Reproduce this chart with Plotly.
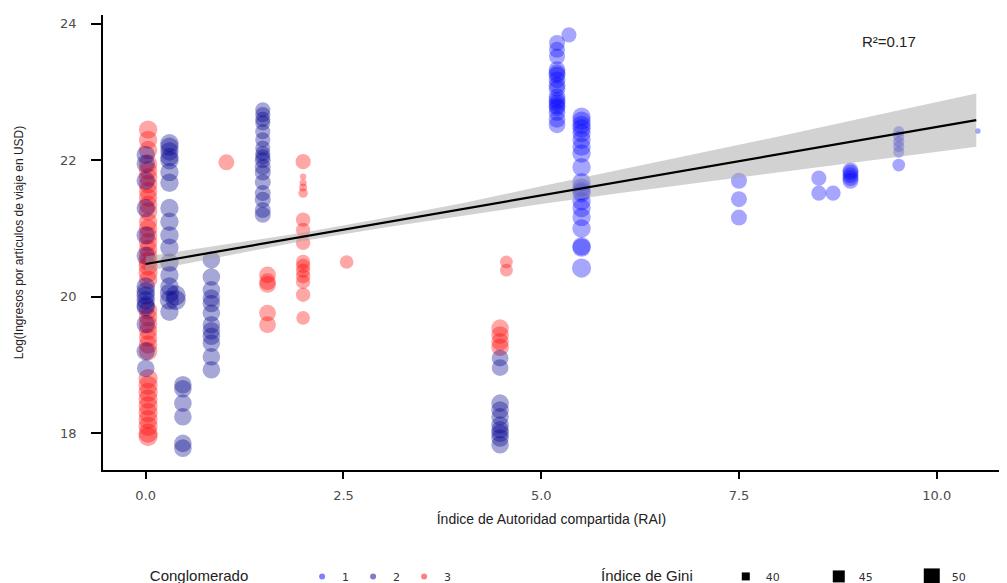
import plotly.graph_objects as go

# ---------------- data ----------------
# Conglomerado 1 (blue)
c1_x = [5.2, 5.2, 5.2, 5.2, 5.2, 5.2, 5.2, 5.2, 5.2, 5.2, 5.2, 5.2, 5.2, 5.2, 5.2, 5.2, 5.2,
        5.35,
        5.51, 5.51, 5.51, 5.51, 5.51, 5.51, 5.51, 5.51, 5.51, 5.51, 5.51, 5.51, 5.51, 5.51,
        5.51, 5.51, 5.51, 5.51, 5.51, 5.51,
        7.5, 7.5, 7.5,
        8.51, 8.51, 8.69,
        8.91, 8.91, 8.91, 8.91, 8.91,
        9.52, 9.52, 9.52, 9.52, 9.52, 9.52,
        10.52]
c1_y = [23.72, 23.62, 23.52, 23.33, 23.28, 23.25, 23.18, 23.1, 23.05, 22.93, 22.88, 22.84,
        22.8, 22.77, 22.7, 22.6, 22.52,
        23.84,
        22.64, 22.58, 22.52, 22.47, 22.4, 22.3, 22.2, 22.1, 21.9, 21.68, 21.6, 21.55, 21.52,
        21.4, 21.3, 21.17, 21.0, 20.74, 20.72, 20.42,
        21.7, 21.43, 21.16,
        21.74, 21.52, 21.52,
        21.85, 21.82, 21.78, 21.74, 21.7,
        22.42, 22.35, 22.27, 22.2, 22.12, 21.93,
        22.43]
c1_gini = [45, 45, 45, 46, 46, 46, 46, 46, 46, 46, 46, 46, 46, 46, 46, 46, 46,
           44,
           48, 48, 48, 48, 48, 48, 48, 48, 48, 48, 48, 48, 48,
           48, 48, 48, 48, 48, 48, 49,
           45, 45, 45,
           44, 44, 44,
           45, 45, 45, 45, 45,
           39, 39, 39, 39, 39, 41,
           32]

# Conglomerado 2 (navy)
c2_x = [0.0, 0.0, 0.0, 0.0, 0.0, 0.0, 0.0, 0.0, 0.0, 0.0, 0.0, 0.0, 0.0, 0.0, 0.0,
        0.3, 0.3, 0.3, 0.3, 0.3, 0.3, 0.3, 0.3, 0.3, 0.3, 0.3, 0.3, 0.3, 0.3, 0.3, 0.3, 0.3,
        0.38, 0.38,
        0.47, 0.47, 0.47, 0.47, 0.47, 0.47,
        0.83, 0.83, 0.83, 0.83, 0.83, 0.83, 0.83, 0.83, 0.83, 0.83, 0.83, 0.83,
        1.48, 1.48, 1.48, 1.48, 1.48, 1.48, 1.48, 1.48, 1.48, 1.48, 1.48, 1.48, 1.48, 1.48,
        1.48, 1.48, 1.48,
        4.48, 4.48, 4.48, 4.48, 4.48, 4.48, 4.48, 4.48, 4.48, 4.48]
c2_y = [22.08, 21.95, 21.7, 21.3, 20.9, 20.6, 20.15, 20.08, 20.02, 19.95, 19.88, 19.85,
        19.6, 19.2, 18.95,
        22.25, 22.2, 22.13, 22.05, 22.0, 21.83, 21.67, 21.3, 21.1, 20.9, 20.72, 20.5, 20.32,
        20.15, 20.05, 19.95, 19.78,
        20.02, 19.95,
        18.71, 18.65, 18.44, 18.24, 17.85, 17.78,
        20.54, 20.29, 20.1, 19.98, 19.9, 19.76, 19.59, 19.5, 19.42, 19.32, 19.12, 18.93,
        22.74, 22.67, 22.6, 22.55, 22.42, 22.3, 22.18, 22.1, 22.05, 22.0, 21.9, 21.82, 21.68,
        21.52, 21.42, 21.27, 21.2,
        19.1, 18.96, 18.44, 18.34, 18.24, 18.12, 18.05, 18.0, 17.93, 17.83]
c2_gini = [48, 48, 48, 48, 48, 48, 48, 48, 48, 48, 48, 48, 48, 48, 47,
           48, 48, 48, 48, 48, 48, 48, 48, 48, 48, 48, 48, 48, 48, 49, 49, 48,
           50, 50,
           47, 47, 47, 47, 47, 47,
           47, 47, 47, 47, 47, 47, 47, 47, 47, 47, 47, 47,
           44, 44, 44, 44, 44, 44, 44, 44, 44, 45, 45, 45, 45, 45, 45, 45, 45,
           46, 46, 47, 47, 47, 47, 47, 47, 47, 47]

# Conglomerado 3 (red)
c3_x = [0.03] * 38 + [1.02] + [1.54] * 5 + [1.99] * 15 + [2.54] + [4.48] * 4 + [4.56] * 2
c3_y = [22.45, 22.3, 22.15, 21.95, 21.85, 21.75, 21.65, 21.55, 21.45, 21.35, 21.25, 21.1,
        21.0, 20.9, 20.8, 20.7, 20.6, 20.52, 20.45, 20.35, 20.25, 19.8, 19.7, 19.6, 19.5,
        19.4, 19.3, 19.2, 18.8, 18.7, 18.6, 18.5, 18.4, 18.3, 18.2, 18.1, 18.0, 17.95,
        21.97,
        20.32, 20.22, 20.18, 19.76, 19.59,
        21.98, 21.76, 21.67, 21.6, 21.52, 21.13, 20.98, 20.79, 20.51, 20.45, 20.38, 20.3,
        20.22, 20.03, 19.69,
        20.51,
        19.54, 19.44, 19.34, 19.26,
        20.51, 20.39]
c3_gini = [48, 48, 48, 48, 48, 48, 48, 48, 48, 48, 48, 48, 48, 48, 48, 48, 48, 49, 49,
           49, 48, 48, 48, 48, 48, 48, 48, 48, 49, 49, 49, 49, 49, 49, 49, 49, 49, 49,
           45,
           46, 46, 46, 46, 46,
           44, 33, 34, 35, 37, 43, 43, 43, 43, 43, 43, 43, 43, 43, 42,
           42,
           47, 47, 47, 47,
           41, 41]

# regression fit and its confidence band
fit_x = [0.0, 10.5]
fit_y = [20.48, 22.59]
band_x = [0, 1, 2, 3, 4, 5, 6, 7, 8, 9, 10, 10.5]
band_lo = [20.37, 20.60, 20.82, 21.01, 21.19, 21.36, 21.52, 21.67, 21.83, 21.98, 22.13, 22.20]
band_hi = [20.59, 20.76, 20.94, 21.15, 21.37, 21.62, 21.86, 22.11, 22.35, 22.60, 22.85, 22.98]

r2_label = "R²=0.17"
gini_levels = [40, 45, 50]
cluster_names = ["1", "2", "3"]
cluster_colors = ["rgba(0,0,255,0.5)", "rgba(0,0,139,0.5)", "rgba(255,0,0,0.5)"]


def gini_to_px(g):
    return 4 + (g - 30) * 0.8


fig = go.Figure()

for xs, ys, gs, col in [(c3_x, c3_y, c3_gini, cluster_colors[2]),
                        (c2_x, c2_y, c2_gini, cluster_colors[1]),
                        (c1_x, c1_y, c1_gini, cluster_colors[0])]:
    fig.add_trace(go.Scatter(
        x=xs, y=ys, mode="markers", showlegend=False, hoverinfo="skip",
        marker=dict(size=[gini_to_px(g) for g in gs], color=col, line=dict(width=0)),
    ))

# confidence band
fig.add_trace(go.Scatter(x=band_x, y=band_lo, mode="lines", line=dict(width=0),
                         showlegend=False, hoverinfo="skip"))
fig.add_trace(go.Scatter(x=band_x, y=band_hi, mode="lines", line=dict(width=0),
                         fill="tonexty", fillcolor="rgba(165,165,165,0.5)",
                         showlegend=False, hoverinfo="skip"))
fig.add_trace(go.Scatter(x=fit_x, y=fit_y, mode="lines", line=dict(color="black", width=2.2),
                         showlegend=False, hoverinfo="skip"))

# legend: Conglomerado
for name, col in zip(cluster_names, cluster_colors):
    fig.add_trace(go.Scatter(x=[None], y=[None], mode="markers", name=name, legend="legend",
                             marker=dict(size=6, color=col)))
# legend: Índice de Gini
for g in gini_levels:
    fig.add_trace(go.Scatter(x=[None], y=[None], mode="markers", name=str(g), legend="legend2",
                             marker=dict(size=(g - 30) * 0.8, color="black", symbol="square")))

tick_font = dict(family="DejaVu Sans", size=13, color="#4d4d4d")
title_font = dict(family="Liberation Sans, Arial, sans-serif", size=14, color="#222222")
legend_title_font = dict(family="Liberation Sans, Arial, sans-serif", size=15, color="#222222")
pad = "&nbsp;" * 11

fig.update_layout(
    width=999, height=575,
    margin=dict(l=95, r=7, t=7, b=113, autoexpand=False),
    paper_bgcolor="white", plot_bgcolor="white",
    xaxis=dict(range=[-0.54, 10.8], tickvals=[0, 2.5, 5, 7.5, 10],
               ticktext=["0.0", "2.5", "5.0", "7.5", "10.0"], automargin=False,
               showline=True, linecolor="black", linewidth=1.5, mirror=False,
               ticks="outside", ticklen=7, tickwidth=1.5, tickcolor="black",
               showgrid=False, zeroline=False, tickfont=tick_font, ticklabelstandoff=6,
               title=dict(text="Índice de Autoridad compartida (RAI)", font=title_font, standoff=12)),
    yaxis=dict(range=[17.46, 24.13], tickvals=[18, 20, 22, 24], automargin=False,
               showline=True, linecolor="black", linewidth=1.5,
               ticks="outside", ticklen=10, tickwidth=1.5, tickcolor="black",
               showgrid=False, zeroline=False, tickfont=tick_font, ticklabelstandoff=12,
               title=dict(text="Log(Ingresos por artículos de viaje en USD)",
                          font=dict(family="Liberation Sans, Arial, sans-serif", size=12,
                                    color="#222222"), standoff=34)),
    legend=dict(orientation="h", x=0.05, y=-0.235, xanchor="left", yanchor="middle",
                traceorder="normal", entrywidth=6, entrywidthmode="pixels",
                title=dict(text="Conglomerado" + pad, font=legend_title_font),
                font=dict(family="DejaVu Sans", size=11, color="#333333"),
                bgcolor="rgba(0,0,0,0)"),
    legend2=dict(orientation="h", x=0.553, y=-0.235, xanchor="left", yanchor="middle",
                 traceorder="normal", entrywidth=48, entrywidthmode="pixels",
                 title=dict(text="Índice de Gini" + "&nbsp;" * 6, font=legend_title_font),
                 font=dict(family="DejaVu Sans", size=11, color="#333333"),
                 bgcolor="rgba(0,0,0,0)"),
    annotations=[dict(x=9.4, y=23.74, xref="x", yref="y", text=r2_label, showarrow=False,
                      font=dict(family="Liberation Sans, Arial, sans-serif", size=15,
                                color="#222222"))],
)

fig.write_html("out.html")
